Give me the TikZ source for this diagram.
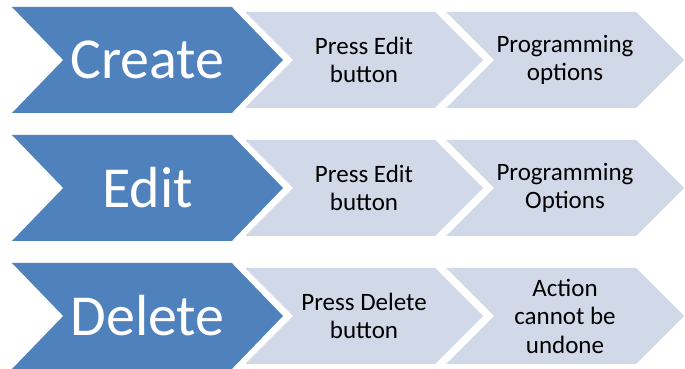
\documentclass[tikz,border=0pt]{standalone}
\usepackage{fontspec}
\setmainfont{Carlito}
\usetikzlibrary{shapes.symbols}
\definecolor{stageblue}{HTML}{4F81BD}
\definecolor{taskgrey}{HTML}{D1D9E8}
\tikzset{
	bigarrow/.style={shape=signal, signal from=west, signal to=east,
		signal pointer angle=92, fill=stageblue, draw=none,
		minimum width=271pt, minimum height=106pt, inner sep=0pt,
		text=white, font=\fontsize{58}{62}\selectfont},
	smallarrow/.style={shape=signal, signal from=west, signal to=east,
		signal pointer angle=90, fill=taskgrey, draw=none,
		minimum width=238pt, minimum height=96pt, inner sep=0pt,
		text=black, align=center, font=\fontsize{25}{28.5}\selectfont}
}

\begin{document}
\begin{tikzpicture}[x=1pt, y=1pt]
		\useasboundingbox (0,0) rectangle (685,369);
		% Create
		\node[bigarrow] (create) at (147.5,309) {Create};
		\node[smallarrow] (createPress) at (364,309) {Press Edit\\button};
		\node[smallarrow] (createProg) at (565,309) {Programming\\options};
		% Edit
		\node[bigarrow] (edit) at (147.5,181) {Edit};
		\node[smallarrow] (editPress) at (364,181) {Press Edit\\button};
		\node[smallarrow] (editProg) at (565,181) {Programming\\Options};
		% Delete
		\node[bigarrow] (delete) at (147.5,53) {Delete};
		\node[smallarrow] (deletePress) at (364,53) {Press Delete\\button};
		\node[smallarrow] (deleteUndo) at (565,53) {Action\\cannot be\\undone};
\end{tikzpicture}
\end{document}
